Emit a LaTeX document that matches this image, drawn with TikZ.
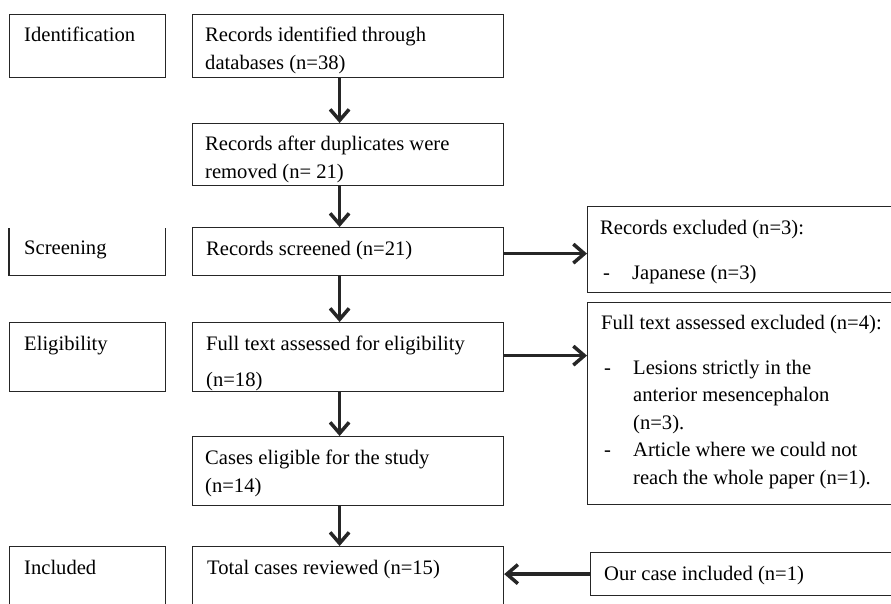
\documentclass[tikz,border=0pt]{standalone}
\usepackage{fontspec}
\setmainfont{Liberation Serif}
\usetikzlibrary{arrows.meta,positioning,calc}

\newcommand{\dashitem}{\makebox[32pt][l]{\hspace{3pt}-}}
\newcommand{\indentitem}{\makebox[32pt]{}}

\tikzset{
  box/.style={draw=black!85, line width=1.2pt, anchor=north west, inner sep=0pt},
  txt/.style={anchor=north west, align=left, inner sep=0pt, font=\fontsize{20.6}{27.5}\selectfont},
  arr/.style={-{Straight Barb[length=11pt,width=19pt]}, line width=3.5pt, black!85},
}

\begin{document}
\begin{tikzpicture}[x=1pt,y=-1pt]
\useasboundingbox (0,0) rectangle (891,603);
\clip (0,0) rectangle (891,603);
\fill[white] (0,0) rectangle (891,603);

% stage labels on the left
\node[box, minimum width=156, minimum height=63] (ident) at (9,14) {};
\node[txt] (identtext) at ($(ident.north west)+(15,13)$) {Identification};
\node[inner sep=0pt, anchor=north west, minimum width=156, minimum height=47] (screen) at (9,228) {};
\draw[black!85, line width=1.2pt] (screen.north west) -- (screen.south west) -- (screen.south east) -- (screen.north east);
\node[txt] (screentext) at ($(screen.north west)+(15,13)$) {Screening};
\node[box, minimum width=156, minimum height=69] (elig) at (9,322) {};
\node[txt] (eligtext) at ($(elig.north west)+(15,14)$) {Eligibility};
\node[box, minimum width=156, minimum height=80] (incl) at (9,546) {};
\node[txt] (incltext) at ($(incl.north west)+(15,14)$) {Included};

% main column
\node[box, minimum width=311, minimum height=63] (recid) at (192,14) {};
\node[txt] (recidtext) at ($(recid.north west)+(13,13)$) {Records identified through\\databases (n=38)};
\node[box, minimum width=311, minimum height=62] (dup) at (192,123) {};
\node[txt] (duptext) at ($(dup.north west)+(13,13)$) {Records after duplicates were\\removed (n= 21)};
\node[box, minimum width=311, minimum height=48] (screened) at (192,227) {};
\node[txt] (screenedtext) at ($(screened.north west)+(14,14)$) {Records screened (n=21)};
\node[box, minimum width=311, minimum height=69] (fulltext) at (192,322) {};
\node[txt] (fulltexttext) at ($(fulltext.north west)+(14,14)$) {Full text assessed for eligibility\\[8.5pt](n=18)};
\node[box, minimum width=311, minimum height=69] (cases) at (192,436) {};
\node[txt] (casestext) at ($(cases.north west)+(13,14)$) {Cases eligible for the study\\(n=14)};
\node[box, minimum width=311, minimum height=80] (total) at (192,546) {};
\node[txt] (totaltext) at ($(total.north west)+(15,14)$) {Total cases reviewed (n=15)};

% exclusions on the right
\node[box, minimum width=330, minimum height=86] (excl1) at (587,206) {};
\node[txt] (excl1text) at ($(excl1.north west)+(13,14)$) {Records excluded (n=3):\\[17pt]\dashitem Japanese (n=3)};
\node[box, minimum width=330, minimum height=202] (excl2) at (587,302) {};
\node[txt] (excl2text) at ($(excl2.north west)+(14,13)$) {Full text assessed excluded (n=4):\\[17pt]%
\dashitem Lesions strictly in the\\\indentitem anterior mesencephalon\\\indentitem (n=3).\\%
\dashitem Article where we could not\\\indentitem reach the whole paper (n=1).};
\node[box, minimum width=330, minimum height=43] (ourcase) at (590,552) {};
\node[txt] (ourcasetext) at ($(ourcase.north west)+(14,14)$) {Our case included (n=1)};

% arrows
\draw[arr] ([xshift=-8.5pt]recid.south) -- ([xshift=-8.5pt]dup.north);
\draw[arr] ([xshift=-8.5pt]dup.south) -- ([xshift=-8.5pt]screened.north);
\draw[arr] ([xshift=-8.5pt]screened.south) -- ([xshift=-8.5pt]fulltext.north);
\draw[arr] ([xshift=-8.5pt]fulltext.south) -- ([xshift=-8.5pt]cases.north);
\draw[arr] ([xshift=-8.5pt]cases.south) -- ([xshift=-8.5pt]total.north);
\draw[arr] ([yshift=-2pt]screened.east) -- ([yshift=-2pt]screened.east -| excl1.west);
\draw[arr] ([yshift=1.5pt]fulltext.east) -- ([yshift=1.5pt]fulltext.east -| excl2.west);
\draw[arr] (ourcase.west) -- (ourcase.west -| total.east);
\end{tikzpicture}
\end{document}
